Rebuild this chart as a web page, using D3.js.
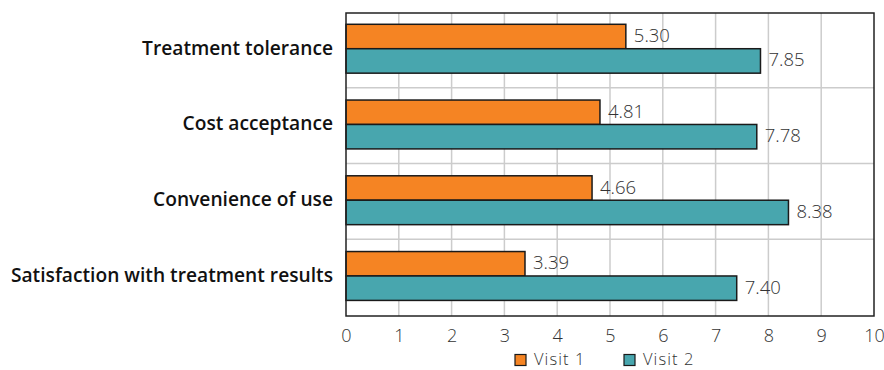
<!DOCTYPE html>
<html>
<head>
<meta charset="utf-8">
<script src="https://cdn.jsdelivr.net/npm/d3@7"></script>
<style>
  html, body { margin: 0; padding: 0; background: #fff; }
  svg text { font-family: "Open Sans", "Noto Sans", sans-serif; }
</style>
</head>
<body>
<svg id="chart" width="884" height="370"></svg>
<script>
// Patient ratings per criterion at two visits
const categories = [
  "Treatment tolerance",
  "Cost acceptance",
  "Convenience of use",
  "Satisfaction with treatment results"
];
const seriesNames = ["Visit 1", "Visit 2"];
const visit1 = [5.30, 4.81, 4.66, 3.39];
const visit2 = [7.85, 7.78, 8.38, 7.40];
const xTicks = [0, 1, 2, 3, 4, 5, 6, 7, 8, 9, 10];
const colors = ["#F58423", "#48A6AE"];

const svg = d3.select("#chart");
const margin = { top: 13, right: 10, bottom: 54, left: 346 };
const width = 884 - margin.left - margin.right;
const height = 370 - margin.top - margin.bottom;

const g = svg.append("g").attr("transform", `translate(${margin.left},${margin.top})`);

const x = d3.scaleLinear().domain([0, 10]).range([0, width]);
const y = d3.scaleBand().domain(categories).range([0, height]).paddingInner(0).paddingOuter(0);
const inner = d3.scaleBand().domain(seriesNames).range([0, y.bandwidth()])
  .paddingOuter(0.55).align(0.42);

// vertical grid
g.append("g").selectAll("line").data(xTicks.slice(1, -1)).join("line")
  .attr("x1", d => x(d)).attr("x2", d => x(d))
  .attr("y1", 0).attr("y2", height)
  .attr("stroke", "#cccccc").attr("stroke-width", 1.5);

// horizontal grid at category boundaries
g.append("g").selectAll("line").data(categories.slice(1)).join("line")
  .attr("x1", 0).attr("x2", width)
  .attr("y1", d => y(d) - 1).attr("y2", d => y(d) - 1)
  .attr("stroke", "#cccccc").attr("stroke-width", 1.5);

// bars
const rows = categories.map((c, i) => ({ cat: c, values: [visit1[i], visit2[i]] }));
const grp = g.selectAll(".row").data(rows).join("g")
  .attr("transform", d => `translate(0,${y(d.cat)})`);

grp.selectAll("rect").data(d => d.values.map((v, j) => ({ v, s: seriesNames[j], j }))).join("rect")
  .attr("x", 0)
  .attr("y", d => inner(d.s))
  .attr("width", d => x(d.v))
  .attr("height", inner.bandwidth())
  .attr("fill", d => colors[d.j])
  .attr("stroke", "#1a1a1a").attr("stroke-width", 1.5);

grp.selectAll("text.val").data(d => d.values.map((v, j) => ({ v, s: seriesNames[j] }))).join("text")
  .attr("class", "val")
  .attr("x", d => x(d.v) + 8)
  .attr("y", d => inner(d.s) + inner.bandwidth() / 2)
  .attr("dy", "0.3em")
  .attr("font-size", 18.5)
  .attr("font-weight", 300)
  .attr("fill", "#333")
  .text(d => d.v.toFixed(2));

// plot border
g.append("rect").attr("x", 0).attr("y", 0).attr("width", width).attr("height", height)
  .attr("fill", "none").attr("stroke", "#222").attr("stroke-width", 1.5);

// x axis labels
const xAxis = g.append("g").attr("transform", `translate(0,${height})`)
  .call(d3.axisBottom(x).tickValues(xTicks).tickFormat(d3.format("d")).tickSize(0).tickPadding(13));
xAxis.select(".domain").remove();
xAxis.selectAll("text").attr("font-size", 18).attr("font-weight", 300).attr("fill", "#333")
  .style("font-family", '"Open Sans", "Noto Sans", sans-serif');

// category labels
const yAxis = g.append("g")
  .call(d3.axisLeft(y).tickSize(0).tickPadding(13));
yAxis.select(".domain").remove();
yAxis.selectAll("text").attr("font-size", 19.2).attr("font-weight", 600).attr("fill", "#111")
  .attr("dy", "0.2em")
  .style("font-family", '"Open Sans", "Noto Sans", sans-serif');

// legend
const legend = svg.append("g").attr("transform", "translate(0,358.5)");
const lx = [515, 624];
seriesNames.forEach((s, i) => {
  legend.append("rect").attr("x", lx[i]).attr("y", -4).attr("width", 11).attr("height", 11)
    .attr("fill", colors[i]).attr("stroke", "#1a1a1a").attr("stroke-width", 1.2);
  legend.append("text").attr("x", lx[i] + 19).attr("y", 0).attr("dy", "0.4em")
    .attr("font-size", 16.5).attr("font-weight", 300).attr("letter-spacing", 1.1)
    .attr("fill", "#333").text(s);
});
</script>
</body>
</html>
